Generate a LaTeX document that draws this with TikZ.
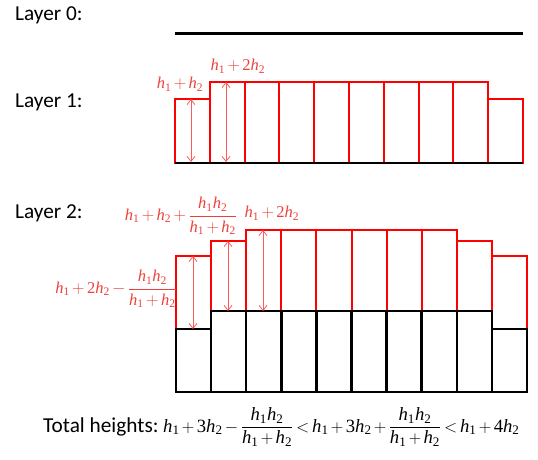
\documentclass[tikz,border=0pt]{standalone}
\usepackage{amsmath}
\usepackage{fontspec}
\setmainfont{Carlito}
\newfontfamily\eqfont{Liberation Serif}
\usetikzlibrary{arrows.meta}

\definecolor{colred}{RGB}{255,0,0}
\definecolor{labred}{RGB}{236,64,58}

% Times-like symbols for the heights
\newcommand{\hh}[1]{\text{\eqfont\itshape h}_{\text{\eqfont #1}}}
\newcommand{\nn}[1]{\text{\eqfont #1}}
\medmuskip=2.5mu
\thickmuskip=3mu

\tikzset{
    redcol/.style={draw=colred, line width=2pt},
    blackcol/.style={draw=black, line width=2.5pt},
    dimarrow/.style={draw=colred!65, line width=0.8pt,
        {Straight Barb[length=5pt,width=8pt]}-{Straight Barb[length=5pt,width=8pt]}},
    layerlabel/.style={font=\fontsize{21.3}{25}\selectfont, anchor=west, inner sep=0pt},
    hlabel/.style={text=labred, font=\fontsize{16.5}{19}\selectfont, inner sep=0pt}
}

\begin{document}
\begin{tikzpicture}[x=1pt, y=-1pt]
    \useasboundingbox (0,0) rectangle (538,460);

    % Layer names
    \node[layerlabel] (lay0) at (15,15) {Layer 0:};
    \node[layerlabel] (lay1) at (15,102) {Layer 1:};
    \node[layerlabel] (lay2) at (15,213) {Layer 2:};

    % Layer 0: flat ground
    \draw[blackcol] (175,33.3) -- (523,33.3);

    % Layer 1 columns (red) on the ground line
    \foreach \i/\top in {0/99, 1/82, 2/82, 3/82, 4/82, 5/82, 6/82, 7/82, 8/82, 9/99} {
        \draw[redcol] ({175+34.8*\i},163) rectangle ({175+34.8*(\i+1)},\top);
    }
    \draw[blackcol] (175,163) -- (523,163);

    % Layer 2: new red layer on top of the old columns (black)
    \foreach \i/\bot/\top in {0/329/256, 1/311/241, 2/311/230, 3/311/230, 4/311/230,
                              5/311/230, 6/311/230, 7/311/230, 8/311/241, 9/329/256} {
        \draw[redcol] ({176+35.1*\i},\bot) rectangle ({176+35.1*(\i+1)},\top);
    }
    \foreach \i/\top in {0/329, 1/311, 2/311, 3/311, 4/311, 5/311, 6/311, 7/311, 8/311, 9/329} {
        \draw[blackcol] ({176+35.1*\i},392) rectangle ({176+35.1*(\i+1)},\top);
    }

    % Height arrows, layer 1
    \coordinate (oneAtop) at (191,99);
    \coordinate (oneAbot) at (191,162);
    \coordinate (oneBtop) at (226,82);
    \coordinate (oneBbot) at (226,162);
    \draw[dimarrow] (oneAtop) -- (oneAbot);
    \draw[dimarrow] (oneBtop) -- (oneBbot);

    % Height arrows, layer 2
    \coordinate (twoAtop) at (193,256);
    \coordinate (twoAbot) at (193,329);
    \coordinate (twoBtop) at (228,241);
    \coordinate (twoBbot) at (228,311);
    \coordinate (twoCtop) at (263,230);
    \coordinate (twoCbot) at (263,311);
    \draw[dimarrow] (twoAtop) -- (twoAbot);
    \draw[dimarrow] (twoBtop) -- (twoBbot);
    \draw[dimarrow] (twoCtop) -- (twoCbot);

    % Height labels
    \node[hlabel] (hOneA) at (180,84) {$\hh1+\hh2$};
    \node[hlabel] (hOneB) at (238,66) {$\hh1+\nn2\hh2$};
    \node[hlabel] (hTwoB) at (181,216) {$\hh1+\hh2+\dfrac{\hh1\hh2}{\hh1+\hh2}$};
    \node[hlabel] (hTwoC) at (272,213) {$\hh1+\nn2\hh2$};
    \node[hlabel] (hTwoA) at (116,289) {$\hh1+\nn2\hh2-\dfrac{\hh1\hh2}{\hh1+\hh2}$};

    % Comparison of total heights
    \node[layerlabel] (total) at (43,427) {Total heights:};
    \node[anchor=west, inner sep=0pt, font=\fontsize{18.7}{22}\selectfont] (totalEq) at (163,427)
        {$\hh1+\nn3\hh2-\dfrac{\hh1\hh2}{\hh1+\hh2}<\hh1+\nn3\hh2+\dfrac{\hh1\hh2}{\hh1+\hh2}<\hh1+\nn4\hh2$};
\end{tikzpicture}
\end{document}
